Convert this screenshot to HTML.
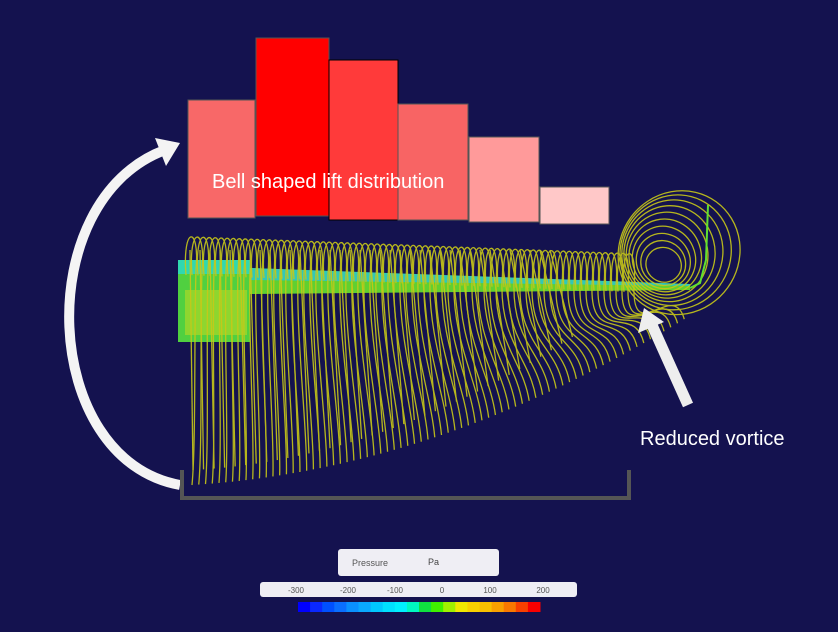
<!DOCTYPE html><html><head><style>body{margin:0;background:#14124f;width:838px;height:627px;overflow:hidden;font-family:"Liberation Sans",sans-serif}</style></head><body>
<svg id="s" width="838" height="627" xmlns="http://www.w3.org/2000/svg">
<rect width="838" height="627" fill="#14124f"/>
<g stroke="#555" stroke-width="1">
<rect x="188" y="100" width="67" height="118" fill="#f86868"/>
<rect x="256" y="38" width="73" height="178" fill="#ff0000"/>
<rect x="329" y="60" width="69" height="160" fill="#ff3a3a" stroke="#000"/>
<rect x="398" y="104" width="70" height="116" fill="#f86464"/>
<rect x="469" y="137" width="70" height="85" fill="#ff9a9a"/>
<rect x="540" y="187" width="69" height="37" fill="#ffc8c8"/>
</g>
<rect x="178" y="260" width="72" height="82" fill="#50d040"/>
<rect x="178" y="260" width="72" height="14" fill="#30d8b0"/>
<rect x="185" y="290" width="62" height="45" fill="#a8d828" opacity="0.7"/>
<polygon points="250,268 690,285 690,290 250,294" fill="#60d030"/>
<polygon points="250,268 690,284 690,286 250,280" fill="#30c8b8"/>
<g id="lines" fill="none" stroke="#c8c818" stroke-width="1.3" opacity="0.9"></g>
<polyline points="690,288 700,283 706,260 708,205" fill="none" stroke="#60e030" stroke-width="2"/>
<path d="M180,485 C40,460 30,200 165,150" fill="none" stroke="#f4f4f4" stroke-width="10"/>
<polygon points="180,143 155,138 166,166" fill="#f4f4f4"/>
<line x1="688" y1="405" x2="652" y2="325" stroke="#eee" stroke-width="11"/>
<polygon points="644,308 638,333 664,322" fill="#eee"/>
<path d="M182,470 V498 H629 V470" fill="none" stroke="#555" stroke-width="4"/>
<text x="212" y="188" font-size="20" fill="#fff">Bell shaped lift distribution</text>
<text x="640" y="445" font-size="20" fill="#fff">Reduced vortice</text>
<rect x="338" y="549" width="161" height="27" rx="3" fill="#efeef4"/>
<text x="352" y="566" font-size="9" fill="#555">Pressure</text>
<text x="428" y="565" font-size="9" fill="#444">Pa</text>
<rect x="260" y="582" width="317" height="15" rx="3" fill="#efeef4"/>
<g font-size="8" fill="#555" text-anchor="middle"><text x="296" y="593">-300</text><text x="348" y="593">-200</text><text x="395" y="593">-100</text><text x="442" y="593">0</text><text x="490" y="593">100</text><text x="543" y="593">200</text></g>
<g id="cb"></g>
</svg>
<script>
var cols=["#0000ff","#0a28ff","#0050ff","#0a6eff","#0a90ff","#0aa8ff","#00c8ff","#00e0ff","#00f0ff","#00f8c0","#10e040","#40f000","#a0f000","#f0e800","#f8d000","#f8c000","#f8a000","#f87800","#f84000","#f80000"];
var cb=document.getElementById('cb'),w=242/cols.length;
cols.forEach(function(c,i){cb.innerHTML+='<rect x="'+(298+i*w)+'" y="602" width="'+(w+0.5)+'" height="10" fill="'+c+'"/>';});
var g=document.getElementById('lines'),h='';
for(var x=186;x<630;x+=6){var t=(x-186)/444;var spY=270+t*17;var bot=485-t*t*140-t*30;
h+='<path d="M'+x+','+(spY+5)+' C'+(x-4)+','+(spY-45)+' '+(x+14)+','+(spY-45)+' '+(x+10)+','+spY+' C'+(x+8)+','+(spY+60)+' '+(x+10+t*40)+','+(bot-40)+' '+(x+6+t*55)+','+bot+'"/>';}
for(var x=190;x<560;x+=10){var t=(x-190)/370;h+='<path d="M'+x+',250 L'+(x+3+t*20)+','+(470-t*t*120-t*20)+'"/>';}
for(var r=18;r<65;r+=5){h+='<ellipse cx="'+(668-r*0.3)+'" cy="'+(268)+'" rx="'+r+'" ry="'+(r*0.95)+'" transform="rotate('+(r*2)+' 668 268)"/>';}
g.innerHTML=h;
</script>
</body></html>
